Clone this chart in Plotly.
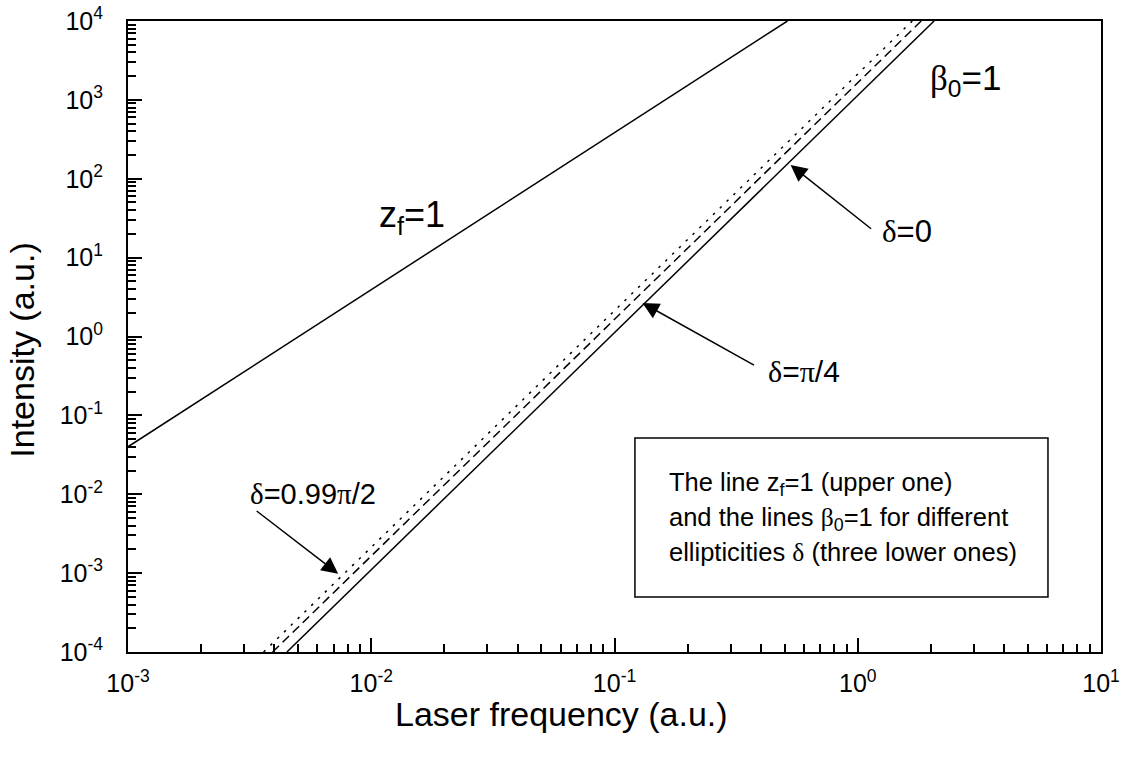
import plotly.graph_objects as go

# ---- data ----
zf_freq = [1e-3, 0.514]
zf_int = [0.04, 1e4]

b0_d0_freq = [4.5e-3, 2.06]          # delta = 0 (solid)
b0_d0_int = [1e-4, 1e4]
b0_pi4_freq = [3.93e-3, 1.823]       # delta = pi/4 (dashed)
b0_pi4_int = [1e-4, 1e4]
b0_099_freq = [3.61e-3, 1.675]       # delta = 0.99 pi/2 (dotted)
b0_099_int = [1e-4, 1e4]

x_tickvals = [1e-3, 1e-2, 1e-1, 1e0, 1e1]
x_ticktext = ["10<sup>-3</sup>", "10<sup>-2</sup>", "10<sup>-1</sup>", "10<sup>0</sup>", "10<sup>1</sup>"]
y_tickvals = [1e-4, 1e-3, 1e-2, 1e-1, 1e0, 1e1, 1e2, 1e3, 1e4]
y_ticktext = ["10<sup>-4</sup>", "10<sup>-3</sup>", "10<sup>-2</sup>", "10<sup>-1</sup>", "10<sup>0</sup>",
              "10<sup>1</sup>", "10<sup>2</sup>", "10<sup>3</sup>", "10<sup>4</sup>"]

FONT = "Liberation Sans, Arial, sans-serif"
SERIF = "Liberation Serif, Times New Roman, serif"


def g(ch):
    return f'<span style="font-family:{SERIF}">{ch}</span>'


fig = go.Figure()
line_w = 1.5
fig.add_trace(go.Scatter(x=zf_freq, y=zf_int, mode="lines",
                         line=dict(color="black", width=line_w)))
fig.add_trace(go.Scatter(x=b0_d0_freq, y=b0_d0_int, mode="lines",
                         line=dict(color="black", width=line_w)))
fig.add_trace(go.Scatter(x=b0_pi4_freq, y=b0_pi4_int, mode="lines",
                         line=dict(color="black", width=line_w, dash="9px,5px")))
fig.add_trace(go.Scatter(x=b0_099_freq, y=b0_099_int, mode="lines",
                         line=dict(color="black", width=line_w, dash="2.5px,7px")))

axis_common = dict(
    type="log", showgrid=False, zeroline=False, automargin=False,
    showline=True, linecolor="black", linewidth=2, mirror=True,
    ticks="inside", ticklen=14, tickwidth=2, tickcolor="black",
    tickmode="array",
    tickfont=dict(family=FONT, size=25, color="black"),
    minor=dict(ticks="inside", ticklen=8, tickwidth=1.5, tickcolor="black", dtick="D1"),
)

fig.update_xaxes(range=[-3, 1], tickvals=x_tickvals, ticktext=x_ticktext,
                 ticklabelstandoff=8, **axis_common)
fig.update_yaxes(range=[-4, 4], tickvals=y_tickvals, ticktext=y_ticktext,
                 ticklabelstandoff=18, **axis_common)

annotations = []


def label(text, x, y, size, xanchor="left", textangle=0):
    annotations.append(dict(text=text, xref="paper", yref="paper", x=x, y=y,
                            xanchor=xanchor, yanchor="middle", showarrow=False,
                            textangle=textangle,
                            font=dict(family=FONT, size=size, color="black")))


# axis titles
label("Laser frequency (a.u.)", 0.446, -0.098, 34, xanchor="center")
label("Intensity (a.u.)", -0.109, 0.479, 34, xanchor="center", textangle=-90)

label("z<sub>f</sub>=1", 0.256, 0.689, 36)
label(g("β") + "<sub>0</sub>=1", 0.822, 0.906, 35)
label(g("δ") + "=0", 0.773, 0.666, 31)
label(g("δ") + "=" + g("π") + "/4", 0.656, 0.444, 30)
label(g("δ") + "=0.99" + g("π") + "/2", 0.123, 0.250, 29)

label("The line z<sub>f</sub>=1 (upper one)", 0.554, 0.266, 25.5)
label("and the lines " + g("β") + "<sub>0</sub>=1 for different", 0.554, 0.211, 25.5)
label("ellipticities " + g("δ") + " (three lower ones)", 0.554, 0.157, 25.5)


def arrow(x, y, ax, ay):
    annotations.append(dict(text="", x=x, y=y, xref="x", yref="y", ax=ax, ay=ay,
                            showarrow=True, arrowhead=2, arrowsize=2.2, arrowwidth=1.5,
                            arrowcolor="black", standoff=0, startstandoff=0))


arrow(-0.276, 2.175, 82, 65)
arrow(-0.885, 0.426, 113, 63)
arrow(-2.136, -3.009, -83, -64)

fig.update_layout(
    width=1125, height=759,
    margin=dict(l=128, r=24, t=21, b=107),
    paper_bgcolor="white", plot_bgcolor="white",
    showlegend=False,
    annotations=annotations,
    shapes=[dict(type="rect", xref="paper", yref="paper",
                 x0=0.521, x1=0.9455, y0=0.0872, y1=0.339,
                 line=dict(color="black", width=1.5), fillcolor="rgba(0,0,0,0)")],
)

fig.write_html("out.html",
               config={"displayModeBar": False},
               post_script="document.body.style.margin='0';document.body.style.overflow='hidden';")
